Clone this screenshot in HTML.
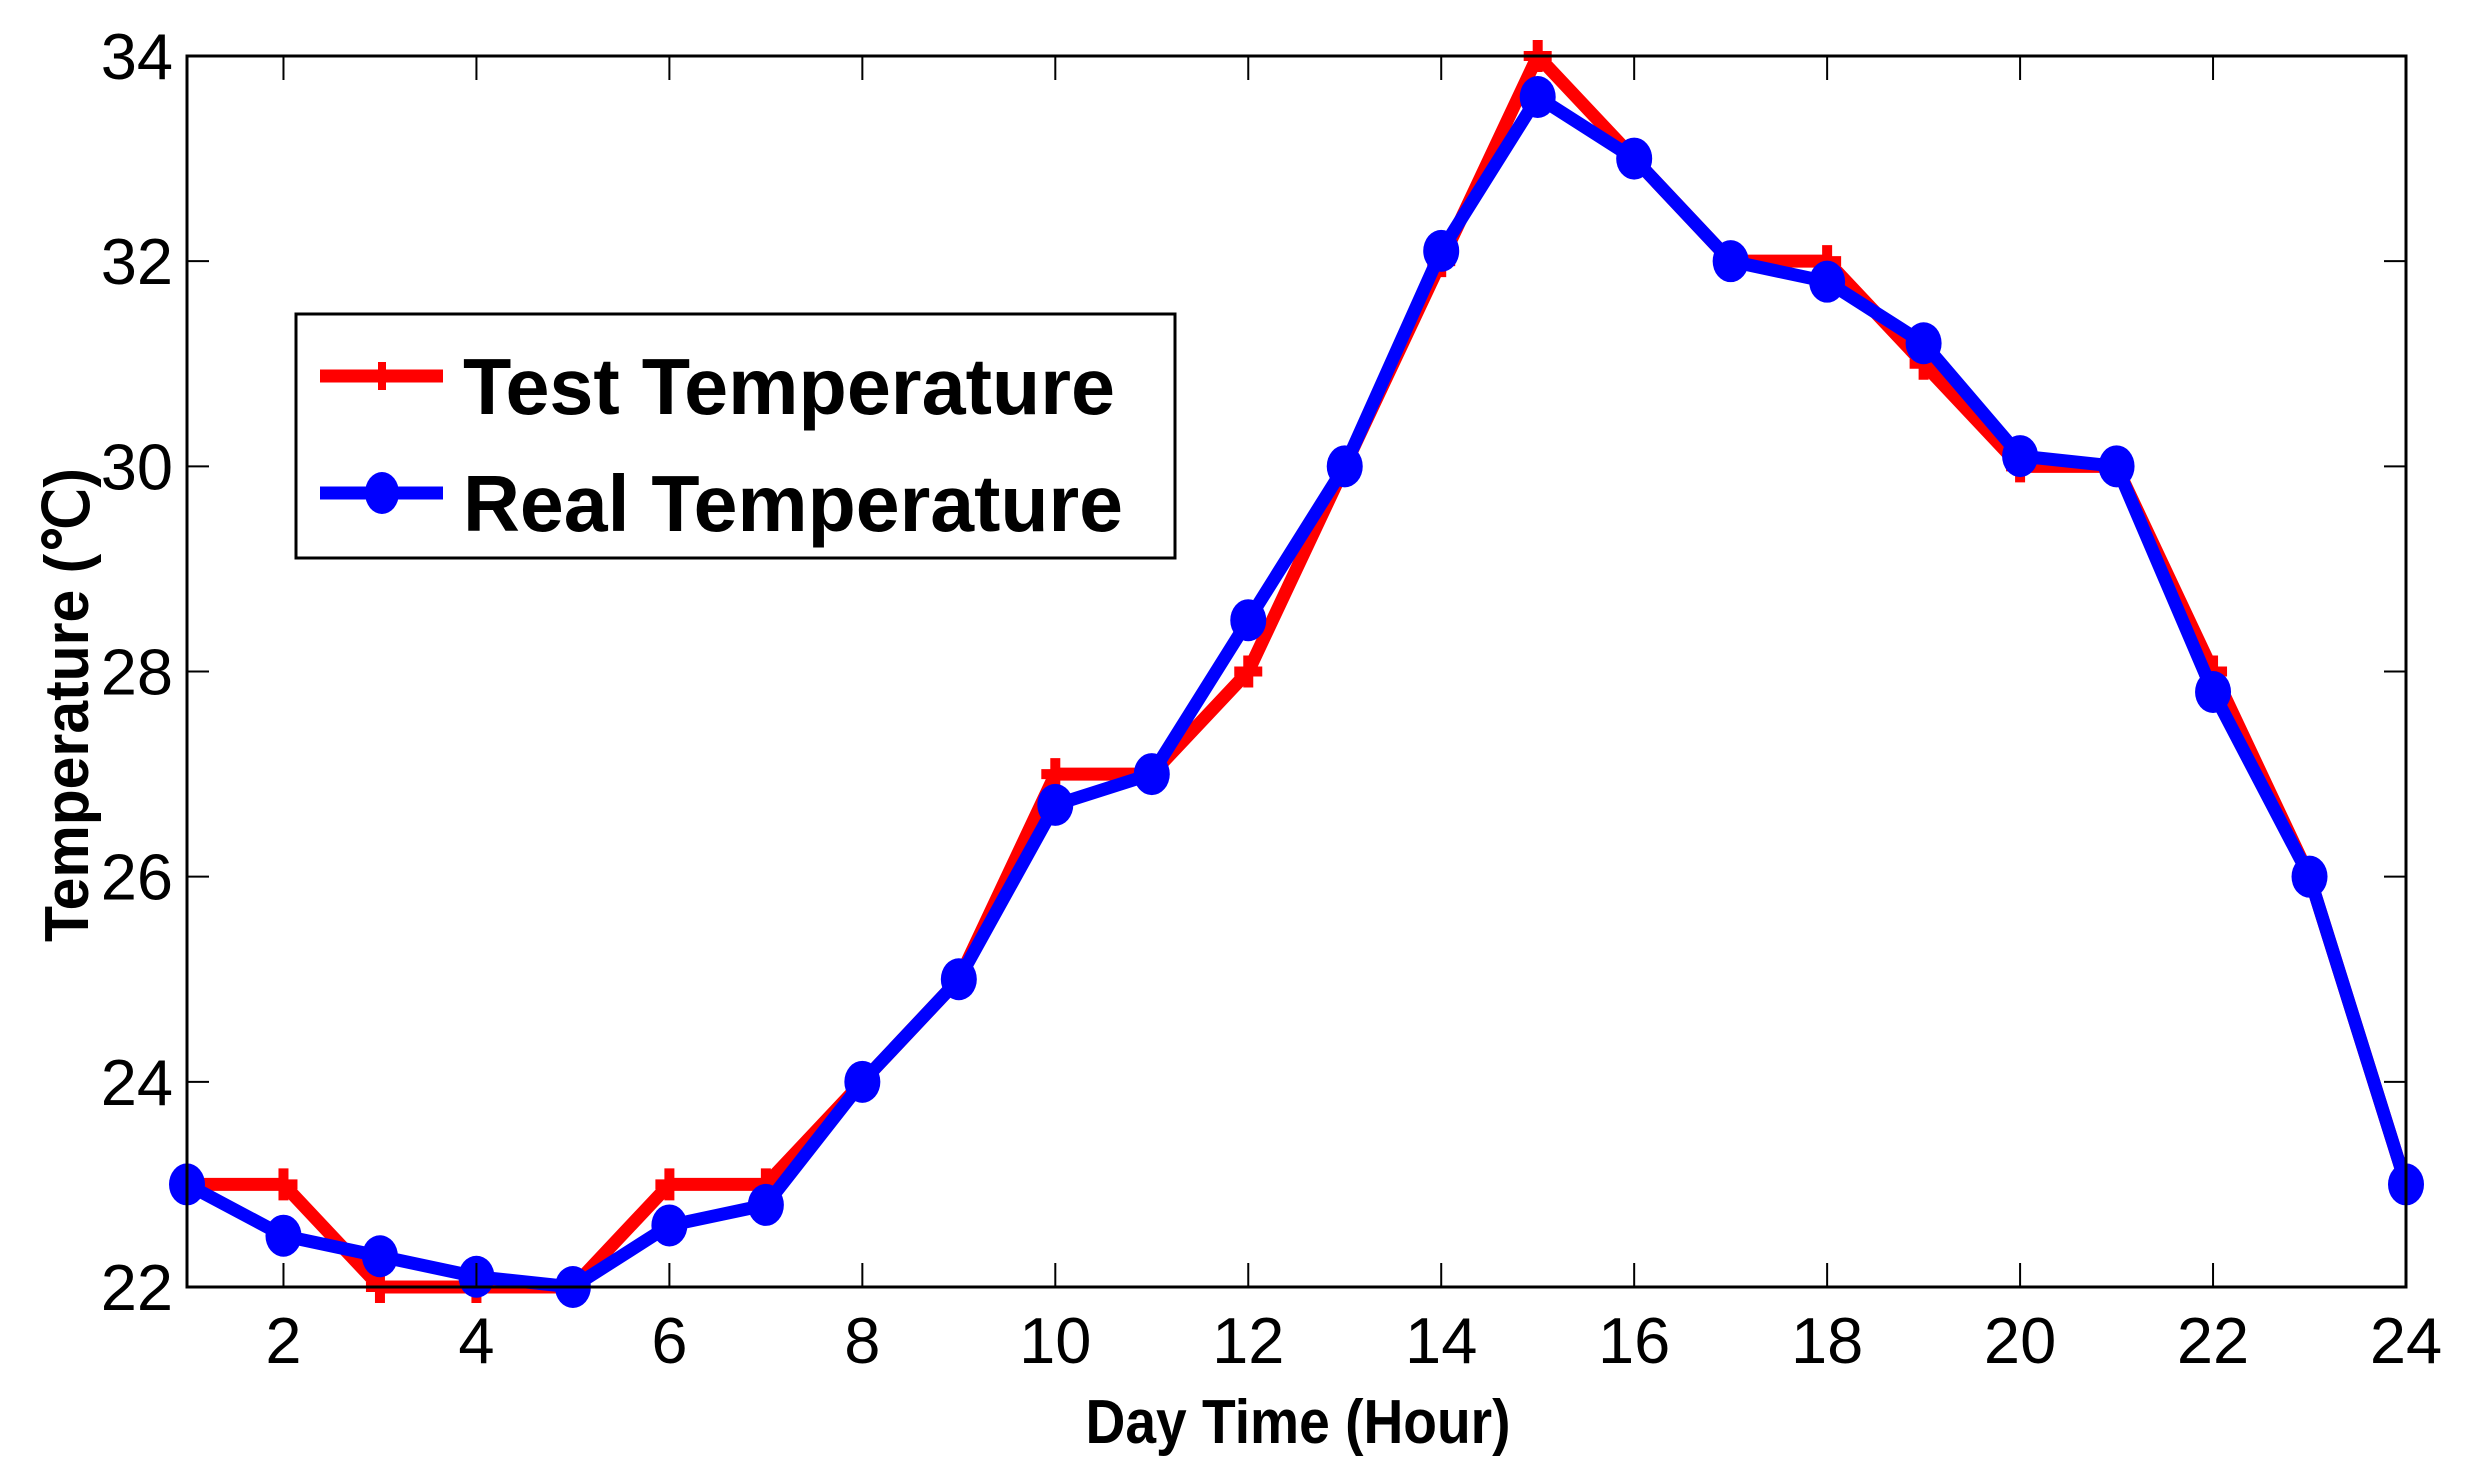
<!DOCTYPE html>
<html><head><meta charset="utf-8"><style>html,body{margin:0;padding:0;background:#fff}svg{display:block}</style></head>
<body>
<svg id="chart" width="2466" height="1484" viewBox="0 0 2466 1484" xmlns="http://www.w3.org/2000/svg" font-family="'Liberation Sans', Arial, sans-serif">
<rect x="0" y="0" width="2466" height="1484" fill="#fff"/>
<g id="grid-layer"></g>
<g id="series-layer"></g>
<rect x="187" y="56" width="2219" height="1231" fill="none" stroke="#000" stroke-width="3"/>
<g id="tick-layer"></g>
<text x="1298" y="1443" font-size="62" font-weight="bold" text-anchor="middle" textLength="425" lengthAdjust="spacingAndGlyphs">Day Time (Hour)</text>
<text transform="translate(88,705) rotate(-90)" font-size="62" font-weight="bold" text-anchor="middle" textLength="474" lengthAdjust="spacingAndGlyphs">Temperature (℃)</text>
<g>
<rect x="296" y="314" width="879" height="244" fill="#fff" stroke="#000" stroke-width="3"/>
<g>
<line x1="320" y1="376" x2="443" y2="376" stroke="#f00" stroke-width="13"/>
<line x1="382" y1="362" x2="382" y2="390" stroke="#f00" stroke-width="8"/>
<text x="463" y="414" font-size="80" font-weight="bold" textLength="652" lengthAdjust="spacingAndGlyphs">Test Temperature</text>
</g>
<g>
<line x1="320" y1="493" x2="443" y2="493" stroke="#00f" stroke-width="13"/>
<ellipse cx="382" cy="493" rx="17" ry="21" fill="#00f"/>
<text x="463" y="531" font-size="80" font-weight="bold" textLength="660" lengthAdjust="spacingAndGlyphs">Real Temperature</text>
</g>
</g>
</svg>
<script>
const hours = [1,2,3,4,5,6,7,8,9,10,11,12,13,14,15,16,17,18,19,20,21,22,23,24];
const testTemp = [23,23,22,22,22,23,23,24,25,27,27,28,30,32,34,33,32,32,31,30,30,28,26,23];
const realTemp = [23,22.5,22.3,22.1,22,22.6,22.8,24,25,26.7,27,28.5,30,32.1,33.6,33,32,31.8,31.2,30.1,30,27.8,26,23];
const xTicks = [2,4,6,8,10,12,14,16,18,20,22,24];
const yTicks = [22,24,26,28,30,32,34];

const L=187,R=2406,T=56,B=1287;
const xMin=1,xMax=24,yMin=22,yMax=34;
function sx(v){return L+(v-xMin)/(xMax-xMin)*(R-L);}
function sy(v){return B-(v-yMin)/(yMax-yMin)*(B-T);}
const NS='http://www.w3.org/2000/svg';
function mk(tag,attrs,parent){const e=document.createElementNS(NS,tag);for(const k in attrs)e.setAttribute(k,attrs[k]);parent.appendChild(e);return e;}

const ticks=document.getElementById('tick-layer');
xTicks.forEach(v=>{
  const x=sx(v);
  const t1=mk('line',{x1:x,y1:B,x2:x,y2:B-24,stroke:'#000','stroke-width':2},ticks);
  
  
  const t2=mk('line',{x1:x,y1:T,x2:x,y2:T+24,stroke:'#000','stroke-width':2},ticks);
  
  
  const lb=mk('text',{x:x,y:1363,'font-size':65,'text-anchor':'middle'},ticks);
  lb.textContent=v;
  
  
});
yTicks.forEach(v=>{
  const y=sy(v);
  const t1=mk('line',{x1:L,y1:y,x2:L+22,y2:y,stroke:'#000','stroke-width':2},ticks);
  
  
  const t2=mk('line',{x1:R,y1:y,x2:R-22,y2:y,stroke:'#000','stroke-width':2},ticks);
  
  
  const lb=mk('text',{x:173,y:y+23,'font-size':65,'text-anchor':'end'},ticks);
  lb.textContent=v;
  
  
});

const sl=document.getElementById('series-layer');
const gT=mk('g',{},sl);


const pT=mk('polyline',{points:hours.map((h,i)=>sx(h)+','+sy(testTemp[i])).join(' '),fill:'none',stroke:'#f00','stroke-width':13,'stroke-linejoin':'miter'},gT);


hours.forEach((h,i)=>{
  const x=sx(h),y=sy(testTemp[i]);
  const m=mk('path',{d:`M${x-14} ${y}H${x+14}M${x} ${y-16}V${y+16}`,stroke:'#f00','stroke-width':10},gT);
  
  
});
const gR=mk('g',{},sl);


const pR=mk('polyline',{points:hours.map((h,i)=>sx(h)+','+sy(realTemp[i])).join(' '),fill:'none',stroke:'#00f','stroke-width':13,'stroke-linejoin':'round'},gR);


hours.forEach((h,i)=>{
  const c=mk('ellipse',{cx:sx(h),cy:sy(realTemp[i]),rx:18,ry:21,fill:'#00f'},gR);
  
  
});
</script>
</body></html>
